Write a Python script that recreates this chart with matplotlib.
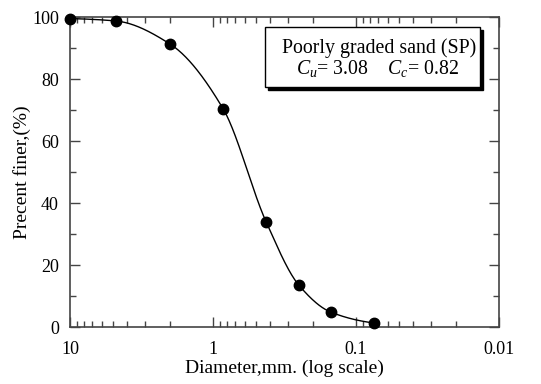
import numpy as np
import matplotlib
matplotlib.use("Agg")
import matplotlib.pyplot as plt
from matplotlib.patches import Rectangle
from matplotlib.ticker import LogLocator, MultipleLocator, FixedLocator, FixedFormatter

plt.rcParams['font.family'] = 'Liberation Serif'
plt.rcParams['mathtext.fontset'] = 'custom'
plt.rcParams['mathtext.rm'] = 'Liberation Serif'
plt.rcParams['mathtext.it'] = 'Liberation Serif:italic'

# sieve data
diameters = [10, 4.75, 2.0, 0.85, 0.425, 0.25, 0.15, 0.075]
percentFiner = [99.5, 98.7, 91.3, 70.4, 33.9, 13.4, 4.8, 1.3]


def pchip(x, y, xNew):
    # monotone cubic (Fritsch-Carlson) through the measured points
    x = np.asarray(x, float)
    y = np.asarray(y, float)
    h = np.diff(x)
    delta = np.diff(y) / h
    d = np.zeros_like(y)
    for k in range(1, len(x) - 1):
        if delta[k - 1] * delta[k] > 0:
            w1 = 2 * h[k] + h[k - 1]
            w2 = h[k] + 2 * h[k - 1]
            d[k] = (w1 + w2) / (w1 / delta[k - 1] + w2 / delta[k])
    d[0] = delta[0] * 0.5
    d[-1] = delta[-1] * 0.5
    out = np.empty_like(xNew)
    for i, xv in enumerate(xNew):
        k = min(np.searchsorted(x, xv) - 1, len(x) - 2)
        k = max(k, 0)
        t = (xv - x[k]) / h[k]
        h00 = 2 * t**3 - 3 * t**2 + 1
        h10 = t**3 - 2 * t**2 + t
        h01 = -2 * t**3 + 3 * t**2
        h11 = t**3 - t**2
        out[i] = h00 * y[k] + h10 * h[k] * d[k] + h01 * y[k + 1] + h11 * h[k] * d[k + 1]
    return out


logD = -np.log10(diameters)
fineLog = np.linspace(logD[0], logD[-1], 400)
curve = pchip(logD, percentFiner, fineLog)

fig = plt.figure(figsize=(5.41, 3.84), dpi=100)
ax = fig.add_axes([70 / 541, 1 - 327 / 384, 429 / 541, 310 / 384])

ax.plot(10 ** (-fineLog), curve, color='black', linewidth=1.0)
ax.plot(diameters, percentFiner, 'o', color='black', markersize=7.5, clip_on=False, zorder=5)

ax.set_xscale('log')
ax.set_xlim(10, 0.01)
ax.set_ylim(0, 100)
ax.xaxis.set_major_locator(FixedLocator([10, 1, 0.1, 0.01]))
ax.xaxis.set_major_formatter(FixedFormatter(['10', '1', '0.1', '0.01']))
ax.xaxis.set_minor_locator(LogLocator(base=10, subs=np.arange(2, 10), numticks=20))
ax.xaxis.set_minor_formatter(plt.NullFormatter())
ax.yaxis.set_major_locator(MultipleLocator(20))
ax.yaxis.set_minor_locator(MultipleLocator(10))

for s in ax.spines.values():
    s.set_color('#444444')
    s.set_linewidth(1.2)
ax.tick_params(which='both', direction='in', top=True, right=True, colors='black',
               labelsize=13)
ax.tick_params(which='major', length=7, width=1, color='#444444')
ax.tick_params(which='minor', length=4, width=1, color='#444444')
ax.tick_params(axis='x', which='major', pad=10)
ax.tick_params(axis='y', which='major', pad=8)

ax.set_xlabel('Diameter,mm. (log scale)', fontsize=14, labelpad=1)
ax.set_ylabel('Precent finer,(%)', fontsize=14, labelpad=1)

# label box with drop shadow
bx0, bx1, by0, by1 = 0.455, 0.956, 0.774, 0.968
sx, sy = 3 / 429, -3 / 310
ax.add_patch(Rectangle((bx0 + sx, by0 + sy), bx1 - bx0, by1 - by0, transform=ax.transAxes,
                       facecolor='black', edgecolor='black', zorder=6))
ax.add_patch(Rectangle((bx0, by0), bx1 - bx0, by1 - by0, transform=ax.transAxes,
                       facecolor='white', edgecolor='black', linewidth=1, zorder=7))
ax.text((bx0 + bx1) / 2 + 0.016, 0.9, 'Poorly graded sand (SP)', transform=ax.transAxes,
        ha='center', va='center', fontsize=14.3, zorder=8)
ax.text((bx0 + bx1) / 2 + 0.011, 0.835, r'$C_u$= 3.08    $C_c$= 0.82', transform=ax.transAxes,
        ha='center', va='center', fontsize=14.3, zorder=8)

fig.savefig('out.png', dpi=100)
